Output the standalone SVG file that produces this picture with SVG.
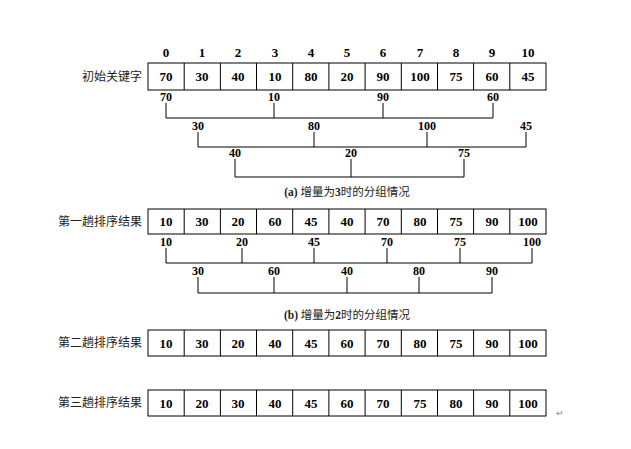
<svg xmlns="http://www.w3.org/2000/svg" width="631" height="449" viewBox="0 0 631 449">
<style>
.n{font-family:"Liberation Serif",serif;font-weight:bold;font-size:13px;text-anchor:middle;fill:#000}
.s{font-family:"Liberation Serif",serif;font-weight:bold;font-size:12px;text-anchor:middle;fill:#000}
.l{font-family:"Noto Sans CJK SC",sans-serif;font-size:12px;text-anchor:end;fill:#222}
.c{font-family:"Liberation Serif","Noto Sans CJK SC",serif;font-size:11.5px;text-anchor:middle;fill:#222}
rect{fill:#fff;stroke:#000;stroke-width:1}
.ln{stroke:#000;stroke-width:1;fill:none}
</style>
<rect x="0" y="0" width="631" height="449" style="stroke:none"/>
<g id="indices">
<text class="n" x="166" y="57">0</text><text class="n" x="202" y="57">1</text><text class="n" x="238" y="57">2</text><text class="n" x="275" y="57">3</text><text class="n" x="311" y="57">4</text><text class="n" x="347" y="57">5</text><text class="n" x="383" y="57">6</text><text class="n" x="420" y="57">7</text><text class="n" x="456" y="57">8</text><text class="n" x="492" y="57">9</text><text class="n" x="528" y="57">10</text>
</g>
<g id="row0">
<text class="l" x="142" y="81">初始关键字</text>
<rect x="148" y="63" width="398" height="27"/>
<path class="ln" d="M184.2 63v27M220.4 63v27M256.5 63v27M292.7 63v27M328.9 63v27M365.1 63v27M401.3 63v27M437.5 63v27M473.6 63v27M509.8 63v27"/>
<text class="n" x="166" y="81">70</text><text class="n" x="202" y="81">30</text><text class="n" x="238" y="81">40</text><text class="n" x="275" y="81">10</text><text class="n" x="311" y="81">80</text><text class="n" x="347" y="81">20</text><text class="n" x="383" y="81">90</text><text class="n" x="420" y="81">100</text><text class="n" x="456" y="81">75</text><text class="n" x="492" y="81">60</text><text class="n" x="528" y="81">45</text>
</g>
<g id="row1">
<text class="l" x="142" y="226">第一趟排序结果</text>
<rect x="148" y="209" width="398" height="25"/>
<path class="ln" d="M184.2 209v25M220.4 209v25M256.5 209v25M292.7 209v25M328.9 209v25M365.1 209v25M401.3 209v25M437.5 209v25M473.6 209v25M509.8 209v25"/>
<text class="n" x="166" y="226">10</text><text class="n" x="202" y="226">30</text><text class="n" x="238" y="226">20</text><text class="n" x="275" y="226">60</text><text class="n" x="311" y="226">45</text><text class="n" x="347" y="226">40</text><text class="n" x="383" y="226">70</text><text class="n" x="420" y="226">80</text><text class="n" x="456" y="226">75</text><text class="n" x="492" y="226">90</text><text class="n" x="528" y="226">100</text>
</g>
<g id="row2">
<text class="l" x="142" y="347">第二趟排序结果</text>
<rect x="148" y="330" width="398" height="26"/>
<path class="ln" d="M184.2 330v26M220.4 330v26M256.5 330v26M292.7 330v26M328.9 330v26M365.1 330v26M401.3 330v26M437.5 330v26M473.6 330v26M509.8 330v26"/>
<text class="n" x="166" y="348">10</text><text class="n" x="202" y="348">30</text><text class="n" x="238" y="348">20</text><text class="n" x="275" y="348">40</text><text class="n" x="311" y="348">45</text><text class="n" x="347" y="348">60</text><text class="n" x="383" y="348">70</text><text class="n" x="420" y="348">80</text><text class="n" x="456" y="348">75</text><text class="n" x="492" y="348">90</text><text class="n" x="528" y="348">100</text>
</g>
<g id="row3">
<text class="l" x="142" y="407">第三趟排序结果</text>
<rect x="148" y="390" width="398" height="26"/>
<path class="ln" d="M184.2 390v26M220.4 390v26M256.5 390v26M292.7 390v26M328.9 390v26M365.1 390v26M401.3 390v26M437.5 390v26M473.6 390v26M509.8 390v26"/>
<text class="n" x="166" y="408">10</text><text class="n" x="202" y="408">20</text><text class="n" x="238" y="408">30</text><text class="n" x="275" y="408">40</text><text class="n" x="311" y="408">45</text><text class="n" x="347" y="408">60</text><text class="n" x="383" y="408">70</text><text class="n" x="420" y="408">75</text><text class="n" x="456" y="408">80</text><text class="n" x="492" y="408">90</text><text class="n" x="528" y="408">100</text>
<text x="556" y="416" style="font-family:'DejaVu Sans',sans-serif;font-size:9px;fill:#888">↵</text>
</g>
<g id="groups-a">
<text class="s" x="166" y="101">70</text><text class="s" x="274" y="101">10</text><text class="s" x="383" y="101">90</text><text class="s" x="493" y="101">60</text>
<path class="ln" d="M166 103v15M274 103v15M383 103v15M493 103v15M166 118H493"/>
<text class="s" x="198" y="130">30</text><text class="s" x="314" y="130">80</text><text class="s" x="427" y="130">100</text><text class="s" x="526" y="130">45</text>
<path class="ln" d="M198 132v15M314 132v15M427 132v15M526 132v15M198 147H526"/>
<text class="s" x="235" y="157">40</text><text class="s" x="351" y="157">20</text><text class="s" x="464" y="157">75</text>
<path class="ln" d="M235 159v18M351 159v18M464 159v18M235 177H464"/>
<text class="c" x="347" y="196"><tspan font-weight="bold">(a)</tspan> 增量为<tspan font-weight="bold">3</tspan>时的分组情况</text>
</g>
<g id="groups-b">
<text class="s" x="166" y="246">10</text><text class="s" x="242" y="246">20</text><text class="s" x="314" y="246">45</text><text class="s" x="387" y="246">70</text><text class="s" x="460" y="246">75</text><text class="s" x="532" y="246">100</text>
<path class="ln" d="M166 248v15M242 248v15M314 248v15M387 248v15M460 248v15M532 248v15M166 263H532"/>
<text class="s" x="198" y="275">30</text><text class="s" x="274" y="275">60</text><text class="s" x="347" y="275">40</text><text class="s" x="419" y="275">80</text><text class="s" x="492" y="275">90</text>
<path class="ln" d="M198 277v16M274 277v16M347 277v16M419 277v16M492 277v16M198 293H492"/>
<text class="c" x="347" y="319"><tspan font-weight="bold">(b)</tspan> 增量为<tspan font-weight="bold">2</tspan>时的分组情况</text>
</g>
</svg>
